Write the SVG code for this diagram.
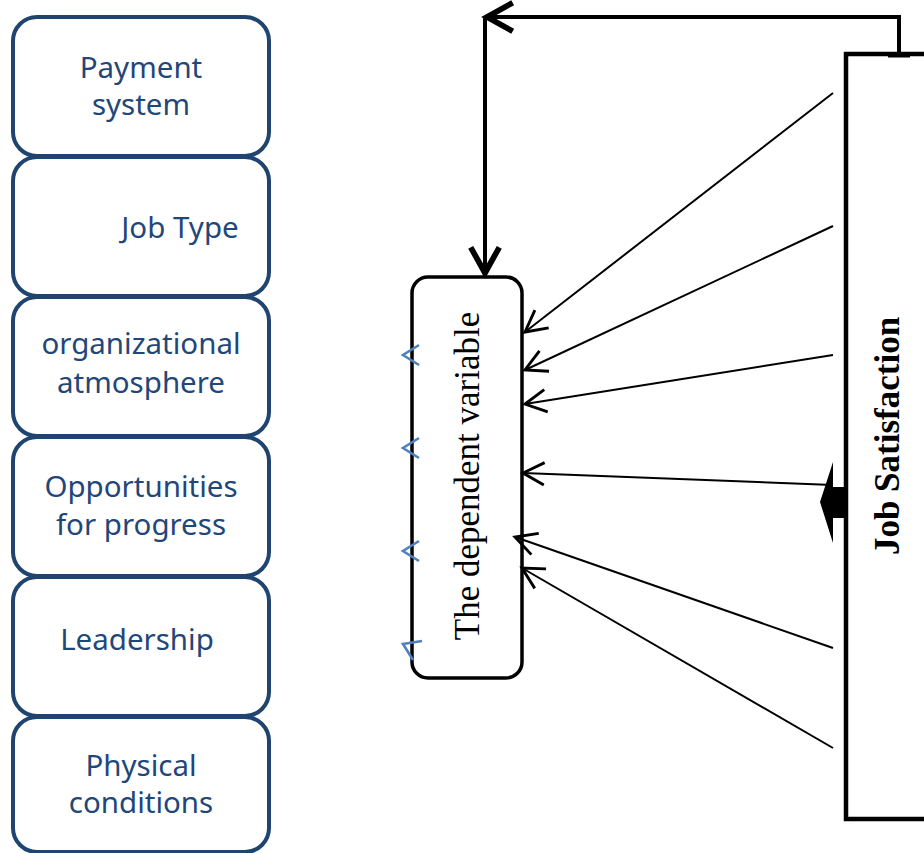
<svg xmlns="http://www.w3.org/2000/svg" width="924" height="853" viewBox="0 0 924 853">
  <style>
    .factor rect { fill: #ffffff; stroke: #1F4470; stroke-width: 4; }
    .factor text { font-family: "Noto Sans", "Open Sans", sans-serif; font-size: 29.5px; fill: #1F477A; text-anchor: middle; }
    .box { fill: #ffffff; stroke: #000000; }
    .vlabel { font-family: "Liberation Serif", "Times New Roman", serif; fill: #000000; text-anchor: middle; }
    .thin { fill: none; stroke: #000000; stroke-width: 2; marker-end: url(#open); }
    .thick { fill: none; stroke: #000000; stroke-width: 4; }
    .blue { fill: none; stroke: #4F81BD; stroke-width: 2.6; }
  </style>
  <defs>
    <marker id="open" markerUnits="userSpaceOnUse" markerWidth="30" markerHeight="30" viewBox="-20 -12 24 24" refX="0" refY="0" orient="auto" overflow="visible">
      <path d="M -17,-9 L 0,0 L -17,9" fill="none" stroke="#000000" stroke-width="2.3"/>
    </marker>
    <marker id="openBig" markerUnits="userSpaceOnUse" markerWidth="40" markerHeight="40" viewBox="-24 -14 28 28" refX="0" refY="0" orient="auto" overflow="visible">
      <path d="M -18,-10 L 0,0 L -18,10" fill="none" stroke="#000000" stroke-width="4"/>
    </marker>
  </defs>
  <rect width="924" height="853" fill="#ffffff"/>

  <g id="payment-system" class="factor">
    <rect x="13" y="17" width="256" height="139" rx="24"/>
    <text x="141" y="78">Payment</text>
    <text x="141" y="115">system</text>
  </g>
  <g id="job-type" class="factor">
    <rect x="13" y="157" width="256" height="139" rx="24"/>
    <text x="180" y="238">Job Type</text>
  </g>
  <g id="organizational-atmosphere" class="factor">
    <rect x="13" y="297" width="256" height="139" rx="24"/>
    <text x="141" y="354">organizational</text>
    <text x="141" y="393">atmosphere</text>
  </g>
  <g id="opportunities" class="factor">
    <rect x="13" y="437" width="256" height="139" rx="24"/>
    <text x="141" y="497">Opportunities</text>
    <text x="141" y="535">for progress</text>
  </g>
  <g id="leadership" class="factor">
    <rect x="13" y="577" width="256" height="139" rx="24"/>
    <text x="137" y="650">Leadership</text>
  </g>
  <g id="physical-conditions" class="factor">
    <rect x="13" y="717" width="256" height="135" rx="24"/>
    <text x="141" y="776">Physical</text>
    <text x="141" y="813">conditions</text>
  </g>

  <g id="dependent-variable">
    <rect class="box" x="412" y="277" width="110" height="401" rx="16" stroke-width="3.5"/>
    <text class="vlabel" font-size="35" transform="translate(479,476) rotate(-90)">The dependent variable</text>
  </g>

  <g id="job-satisfaction">
    <rect class="box" x="846" y="54" width="110" height="765" stroke-width="4.5"/>
    <text class="vlabel" font-size="35" font-weight="bold" transform="translate(899,436) rotate(-90)">Job Satisfaction</text>
  </g>

  <g id="connectors">
    <path class="thick" d="M 899,54 L 899,17 L 487,17" marker-end="url(#openBig)"/>
    <path class="thick" d="M 485,17 L 485,273" marker-end="url(#openBig)"/>
    <line x1="888" y1="55" x2="910" y2="55" stroke="#000000" stroke-width="5"/>
    <line class="thin" x1="833" y1="93" x2="525" y2="332"/>
    <line class="thin" x1="833" y1="226" x2="525" y2="370"/>
    <line class="thin" x1="833" y1="355" x2="525" y2="404"/>
    <line class="thin" x1="833" y1="485" x2="523" y2="473"/>
    <line class="thin" x1="833" y1="648" x2="515" y2="537"/>
    <line class="thin" x1="833" y1="748" x2="522" y2="568"/>
    <polygon points="820,502 833,462 833,487 846,487 846,518 833,518 833,543" fill="#000000"/>
    <polyline class="blue" points="419,345 403,355 419,365"/>
    <polyline class="blue" points="419,438 403,448 419,458"/>
    <polyline class="blue" points="419,541 403,551 419,561"/>
    <polyline class="blue" points="422,641 403,644 413,660"/>
  </g>
</svg>
